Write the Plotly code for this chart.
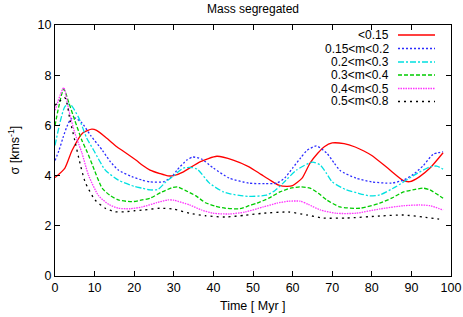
import plotly.graph_objects as go

# ---------------- data ----------------
series_names = ["<0.15", "0.15<m<0.2", "0.2<m<0.3", "0.3<m<0.4", "0.4<m<0.5", "0.5<m<0.8"]

t_red = [0, 2.5, 4.3, 7, 9.3, 10.5, 13, 15.6, 17, 20.6, 22, 24, 26.5, 28.5, 30, 32.3, 36.6, 40.9, 45, 49, 52, 54.5, 56.5, 58.5,
         60, 62.4, 64.4, 66.4, 68, 70, 73, 75.8, 78, 80, 84, 88, 89.6, 92, 94.7, 98]
s_red = [3.92, 4.3, 5.0, 5.7, 5.85, 5.8, 5.5, 5.15, 5.0, 4.6, 4.42, 4.22, 4.08, 3.99, 4.0, 4.14, 4.55, 4.77, 4.62, 4.35, 4.05,
         3.8, 3.62, 3.57, 3.6, 3.9, 4.5, 4.9, 5.15, 5.3, 5.27, 5.14, 4.98, 4.8, 4.3, 3.8, 3.76, 3.95, 4.3, 4.91]

t_blue = [0, 1, 2, 3, 4, 5, 6.8, 9, 12, 14, 16, 19.4, 22, 24, 27.3, 29.5, 30.8, 33.3, 34.8, 37, 40, 44, 49, 53, 56, 58, 60,
          62, 63.6, 66, 68.6, 70.5, 72, 76, 80, 85, 88, 90.5, 93, 95.5, 98]
s_blue = [4.6, 5.0, 5.5, 5.95, 6.25, 6.3, 6.1, 5.6, 5.0, 4.55, 4.22, 3.96, 3.82, 3.75, 3.75, 3.95, 4.22, 4.62, 4.74, 4.66, 4.3,
          3.9, 3.7, 3.68, 3.7, 3.9, 4.3, 4.7, 5.0, 5.18, 4.9, 4.5, 4.2, 3.9, 3.75, 3.7, 3.82, 4.05, 4.4, 4.85, 4.95]

t_cyan = [0, 2.5, 3.8, 6, 8, 9.8, 12.7, 16, 20.2, 22, 24, 26, 28, 30, 32.4, 34.6, 36, 39, 42.5, 44, 47.5, 49, 53.4, 55.5, 57.6,
          61, 65, 67, 68.5, 70, 73.6, 76.5, 79.5, 82, 86, 90.5, 94.7, 96.4, 98]
s_cyan = [5.2, 6.75, 6.85, 6.3, 5.5, 5.0, 4.22, 3.82, 3.56, 3.5, 3.43, 3.45, 3.75, 4.0, 4.3, 4.32, 4.25, 3.7, 3.35, 3.28, 3.19,
          3.17, 3.22, 3.4, 3.7, 4.22, 4.54, 4.42, 4.1, 3.75, 3.43, 3.3, 3.19, 3.23, 3.55, 4.0, 4.35, 4.38, 4.26]

t_green = [0, 2.2, 3.5, 5, 6.8, 8.1, 9.5, 11.9, 14, 16, 19.4, 22, 24, 27, 29.8, 31, 33, 35.5, 38, 40.5, 43, 46.7, 49, 51, 54,
           56.8, 59.5, 61.9, 64.4, 66.5, 68.6, 72, 77, 82, 85, 88, 91, 93, 94.7, 98]
s_green = [6.0, 7.45, 6.9, 6.2, 5.4, 4.95, 4.4, 3.5, 3.2, 3.03, 2.96, 3.03, 3.1, 3.35, 3.53, 3.55, 3.4, 3.2, 2.92, 2.78, 2.7,
           2.68, 2.8, 2.9, 3.1, 3.35, 3.5, 3.55, 3.5, 3.3, 3.03, 2.75, 2.7, 2.9, 3.1, 3.35, 3.45, 3.5, 3.43, 3.1]

t_magenta = [0, 2.2, 3.5, 5, 6.8, 8.5, 11, 13.6, 16, 19, 22, 25.7, 28.5, 30, 34, 37, 40, 44, 48, 52.6, 56, 59, 61.9, 64, 67,
             71, 76, 82, 88, 92, 94.7, 98]
s_magenta = [6.6, 7.5, 6.6, 5.7, 4.9, 4.0, 3.2, 2.85, 2.7, 2.68, 2.75, 2.92, 3.03, 3.02, 2.83, 2.63, 2.5, 2.47, 2.55, 2.75,
             2.9, 2.98, 2.98, 2.85, 2.63, 2.5, 2.5, 2.67, 2.8, 2.83, 2.8, 2.63]

t_black = [0, 2.5, 3.8, 5, 6, 7.6, 10.1, 12.7, 15.2, 17.7, 20, 22.3, 26.5, 29.8, 34, 38, 43, 48, 52.6, 59, 63.6, 67.7, 73.6,
           82, 88, 93, 97]
s_black = [6.8, 7.1, 6.2, 5.4, 4.7, 3.75, 3.03, 2.7, 2.56, 2.56, 2.6, 2.63, 2.7, 2.67, 2.5, 2.4, 2.35, 2.42, 2.5, 2.55, 2.43,
           2.31, 2.31, 2.39, 2.43, 2.35, 2.27]

x_ticks = [0, 10, 20, 30, 40, 50, 60, 70, 80, 90, 100]
y_ticks = [0, 2, 4, 6, 8, 10]

# ---------------- styles ----------------
styles = [
    ("#ff0000", "solid"),
    ("#2b2bff", "2px,2px"),
    ("#00e0e0", "6px,2px,2px,2px"),
    ("#00cc00", "4px,2px"),
    ("#ff33ff", "1.5px,1px"),
    ("#000000", "2px,4px"),
]

all_t = [t_red, t_blue, t_cyan, t_green, t_magenta, t_black]
all_s = [s_red, s_blue, s_cyan, s_green, s_magenta, s_black]

fig = go.Figure()
for name, tt, ss, (col, dash) in zip(series_names, all_t, all_s, styles):
    fig.add_trace(go.Scatter(x=tt, y=ss, mode="lines", name=name,
                             line=dict(color=col, width=1.3, dash=dash, shape="spline", smoothing=0.6),
                             showlegend=False, hoverinfo="skip"))

font = "Liberation Sans, Arial, Helvetica, sans-serif"

W, H = 463, 317
L, R, T, B = 55, 12, 25, 41
pw, ph = W - L - R, H - T - B


def px_x(sx):  # screen x -> paper x
    return (sx - L) / pw


def px_y(sy):  # screen y -> paper y
    return (H - B - sy) / ph


# manual gnuplot-style legend (text right, sample on the right)
row_px = [35, 48.5, 62, 75, 88.5, 101.5]
for name, ypx, (col, dash) in zip(series_names, row_px, styles):
    yp = px_y(ypx)
    fig.add_annotation(x=px_x(390), y=yp, xref="paper", yref="paper", text=name,
                       showarrow=False, xanchor="right", yanchor="middle", borderpad=0,
                       font=dict(family=font, size=12, color="black"))
    fig.add_shape(type="line", xref="paper", yref="paper",
                  x0=px_x(398), x1=px_x(435), y0=yp, y1=yp,
                  line=dict(color=col, width=1.3, dash=dash))

# axis titles
fig.add_annotation(x=0.5, y=px_y(306), xref="paper", yref="paper", text="Time [ Myr ]",
                   showarrow=False, xanchor="center", yanchor="middle",
                   font=dict(family=font, size=12.5, color="black"))
fig.add_annotation(x=px_x(13), y=0.5, xref="paper", yref="paper", text="σ [kms<sup>-1</sup>]",
                   showarrow=False, xanchor="center", yanchor="middle", textangle=-90,
                   font=dict(family=font, size=12.5, color="black"))

axis_common = dict(showline=True, linecolor="black", linewidth=1, mirror="ticks",
                   ticks="inside", ticklen=5, tickcolor="black", showgrid=False, zeroline=False,
                   automargin=False,
                   tickfont=dict(family=font, size=12.5, color="black"))

fig.update_layout(
    width=W, height=H,
    margin=dict(l=L, r=R, t=T, b=B),
    paper_bgcolor="white", plot_bgcolor="white",
    title=dict(text="Mass segregated", x=(L + pw / 2) / W, xanchor="center", y=1 - 9 / H, yanchor="middle",
               font=dict(family=font, size=12, color="black")),
    xaxis=dict(range=[0, 100], tickvals=x_ticks, **axis_common),
    yaxis=dict(range=[0, 10], tickvals=y_ticks, **axis_common),
)

fig.write_html("out.html", config={"displayModeBar": False},
               post_script="document.body.style.margin='0px'; document.body.style.overflow='hidden';")
